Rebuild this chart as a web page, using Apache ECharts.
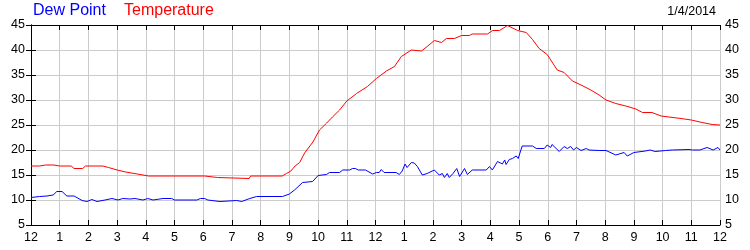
<!DOCTYPE html>
<html>
<head>
<meta charset="utf-8">
<script src="https://cdn.jsdelivr.net/npm/echarts@6/dist/echarts.min.js"></script>
<style>html,body{margin:0;padding:0;background:#fff}#c{width:750px;height:250px}</style>
</head>
<body>
<div id="c"></div>
<script>
var chartDate = '1/4/2014';
var seriesNames = ['Dew Point', 'Temperature'];
var hourTicks = [0,1,2,3,4,5,6,7,8,9,10,11,12,13,14,15,16,17,18,19,20,21,22,23,24];
var yTicks = [5,10,15,20,25,30,35,40,45];

var tempHours = [0,0.3,0.5,0.8,1.0,1.4,1.5,1.8,1.9,2.5,2.7,3.0,3.3,3.7,4.1,6.05,6.1,6.5,6.55,7.6,7.65,8.75,8.9,9.05,9.2,9.36,9.53,9.82,10.05,10.3,10.5,10.75,11.0,11.34,11.72,12.03,12.38,12.66,12.9,13.25,13.6,13.8,14.05,14.3,14.47,14.75,15.0,15.27,15.37,15.9,16.08,16.32,16.6,16.95,17.25,17.47,17.7,17.98,18.33,18.57,18.86,19.16,19.5,19.79,20.03,20.37,20.72,21.07,21.3,21.63,21.95,22.64,23.0,23.38,23.73,24];
var tempValues = [16.8,16.8,17.0,17.0,16.8,16.8,16.3,16.3,16.8,16.8,16.5,16.0,15.6,15.2,14.8,14.8,14.5,14.5,14.3,14.3,14.8,14.8,15.3,15.8,16.8,17.5,19.4,21.6,24.0,25.4,26.6,28.0,29.8,31.3,32.7,34.3,35.8,36.7,38.7,40.0,39.8,40.7,41.9,41.5,42.3,42.3,42.9,42.9,43.2,43.2,43.9,43.9,44.9,43.9,43.5,42.1,40.3,39.1,36.0,35.5,33.8,33.0,32.0,31.0,30.0,29.3,28.8,28.2,27.5,27.5,26.8,26.3,26.0,25.5,25.1,25.0];

var dewHours = [0,0.3,0.56,0.77,0.9,1.08,1.25,1.5,1.78,1.95,2.12,2.3,2.58,2.82,3.03,3.2,3.45,3.62,3.9,4.07,4.25,4.6,4.9,5.0,5.78,5.9,6.05,6.16,6.58,7.17,7.34,7.62,7.86,8.76,9.0,9.18,9.46,9.81,10.0,10.29,10.4,10.75,10.86,11.1,11.2,11.3,11.4,11.65,11.9,12.03,12.13,12.2,12.3,12.72,12.83,12.93,13.03,13.1,13.25,13.35,13.46,13.63,13.8,14.05,14.22,14.33,14.4,14.5,14.57,14.7,14.83,14.93,15.1,15.2,15.37,15.86,15.97,16.07,16.25,16.42,16.5,16.55,16.66,16.77,16.9,16.97,17.11,17.47,17.6,17.88,17.98,18.1,18.15,18.4,18.57,18.68,18.8,18.9,19.0,19.16,19.34,19.44,19.79,20.03,20.37,20.66,20.77,21.0,21.4,21.57,21.74,22.1,22.34,22.92,23.05,23.3,23.55,23.76,23.93,24];
var dewValues = [10.5,10.7,10.8,11.0,11.7,11.7,10.8,10.8,9.9,9.7,10.1,9.7,10.0,10.3,10.0,10.3,10.2,10.3,10.0,10.3,10.0,10.3,10.3,10.0,10.0,10.3,10.3,10.0,9.7,9.9,9.7,10.3,10.7,10.7,11.2,12.0,13.5,13.7,14.9,15.1,15.5,15.5,16.0,16.0,16.3,16.3,16.0,16.0,15.2,15.5,15.5,16.1,15.5,15.5,15.1,15.8,17.2,16.5,17.5,17.4,16.7,15.0,15.3,16.0,15.0,15.3,14.5,15.3,14.5,15.3,16.3,14.7,16.3,15.1,16.0,16.0,16.7,16.0,17.7,17.2,18.0,17.1,18.1,18.3,18.8,18.3,20.8,20.8,20.3,20.3,21.0,20.5,21.1,19.7,20.7,20.3,20.7,20.0,20.5,19.9,20.3,20.0,19.9,19.9,19.0,19.5,18.8,19.5,19.8,20.0,19.7,19.9,20.0,20.1,20.0,20.0,20.5,20.0,20.5,20.0];

function zip(a, b) { return a.map(function (v, i) { return [v, b[i]]; }); }

var FONT = 'Liberation Sans, Arial, sans-serif';
var chart = echarts.init(document.getElementById('c'), null, {renderer: 'canvas'});
var hourFmt = function (v) { var h = Math.round(v) % 12; return String(h === 0 ? 12 : h); };
var tickStyle = {show: true, inside: true, length: 5, lineStyle: {color: '#000', width: 1}};
var axisLine = {show: true, lineStyle: {color: '#000', width: 1}};
var splitLine = {show: true, lineStyle: {color: '#cccccc', width: 1}};

chart.setOption({
  animation: false,
  backgroundColor: '#fff',
  grid: {left: 31, right: 30, top: 25, bottom: 25, containLabel: false},
  graphic: [
    {type: 'text', left: 33, top: 3, style: {text: seriesNames[0], fill: '#0000ff', font: '16px ' + FONT}},
    {type: 'text', left: 124, top: 3, style: {text: seriesNames[1], fill: '#ff0000', font: '16px ' + FONT}},
    {type: 'text', right: 34, top: 5, style: {text: chartDate, fill: '#000', font: '12.5px ' + FONT, align: 'right'}}
  ],
  xAxis: [
    {type: 'value', min: hourTicks[0], max: hourTicks[hourTicks.length - 1], interval: 1, position: 'bottom',
     axisLine: axisLine, axisTick: tickStyle, splitLine: splitLine,
     axisLabel: {color: '#000', fontFamily: FONT, fontSize: 12.5, margin: 6, formatter: hourFmt}},
    {type: 'value', min: hourTicks[0], max: hourTicks[hourTicks.length - 1], interval: 1, position: 'top',
     axisLine: axisLine, axisTick: tickStyle, splitLine: {show: false}, axisLabel: {show: false}}
  ],
  yAxis: [
    {type: 'value', min: yTicks[0], max: yTicks[yTicks.length - 1], interval: 5, position: 'left',
     axisLine: axisLine, axisTick: tickStyle, splitLine: splitLine,
     axisLabel: {color: '#000', fontFamily: FONT, fontSize: 12.5, margin: 6}},
    {type: 'value', min: yTicks[0], max: yTicks[yTicks.length - 1], interval: 5, position: 'right',
     axisLine: axisLine, axisTick: tickStyle, splitLine: {show: false},
     axisLabel: {color: '#000', fontFamily: FONT, fontSize: 12.5, margin: 5}}
  ],
  series: [
    {name: seriesNames[1], type: 'line', data: zip(tempHours, tempValues), showSymbol: false,
     lineStyle: {color: '#ff0000', width: 1}, itemStyle: {color: '#ff0000'}, z: 3},
    {name: seriesNames[0], type: 'line', data: zip(dewHours, dewValues), showSymbol: false,
     lineStyle: {color: '#0000ff', width: 1}, itemStyle: {color: '#0000ff'}, z: 4}
  ]
});
</script>
</body>
</html>
